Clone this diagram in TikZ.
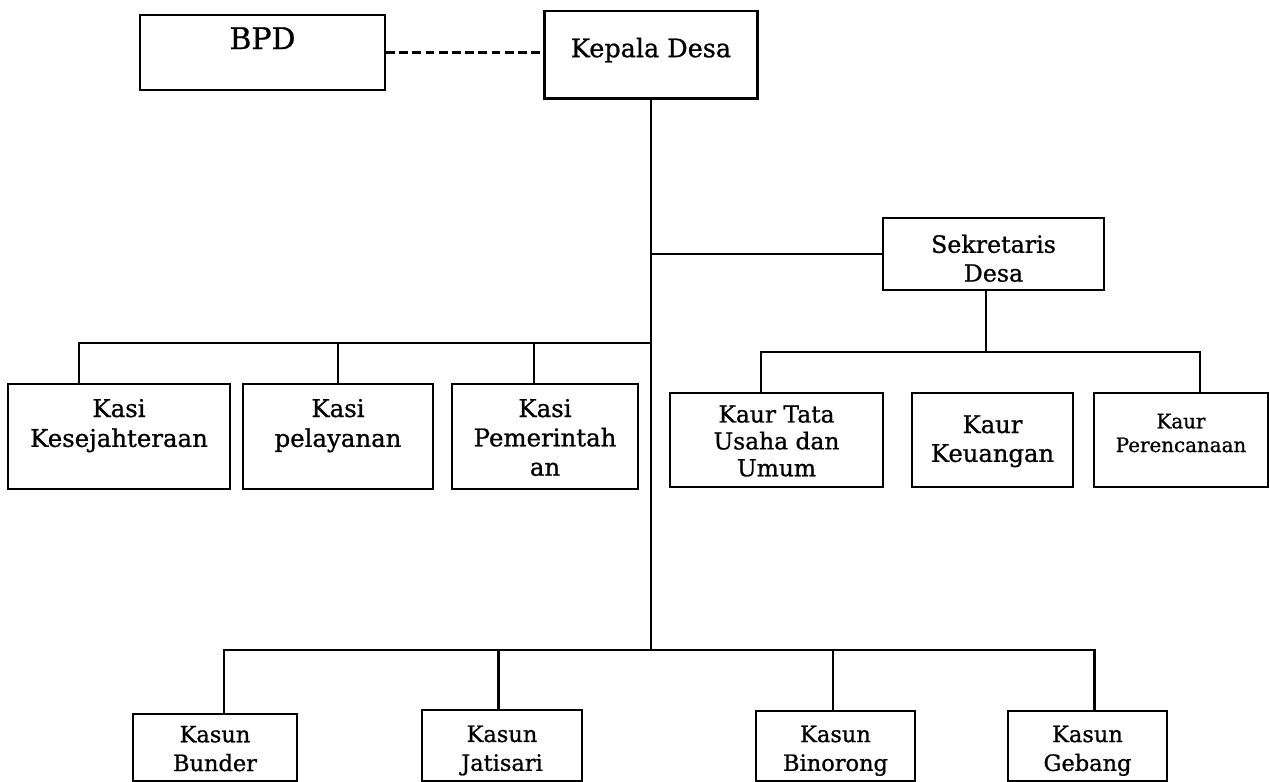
\documentclass[tikz,border=0pt]{standalone}
\usepackage{fontspec}
\setmainfont[FakeBold=0.9]{DejaVu Serif}
\usepackage{tikz}

\newcommand{\lines}[1]{\begin{tabular}[t]{@{}c@{}}#1\end{tabular}}

\tikzset{
  unit/.style={draw, line width=1.3pt, inner sep=0pt, anchor=north},
  link/.style={line width=1.3pt}
}

\begin{document}
\begin{tikzpicture}[x=0.02cm, y=-0.02cm]
    \useasboundingbox (0,0) rectangle (1270,781);
    % top
    \node[unit, minimum width=4.9cm, text height=19.3pt, text depth=23.2pt, font=\fontsize{17}{20}\selectfont] (bpd) at (262.5,14) {BPD};
    \node[unit, minimum width=4.26cm, text height=26.2pt, text depth=23.6pt, font=\fontsize{14.5}{17}\selectfont] (kades) at (651,10) {Kepala Desa};
    \draw[link, dash pattern=on 5pt off 2.5pt] (bpd.east) -- (bpd.east -| kades.west);
    \node[unit, minimum width=4.42cm, text height=19.7pt, text depth=21.1pt, font=\fontsize{13.5}{16.4}\selectfont] (sekdes) at (993.5,217) {\lines{Sekretaris\\Desa}};
    % kasi
    \node[unit, minimum width=4.44cm, text height=18.7pt, text depth=40.8pt, font=\fontsize{13.9}{17}\selectfont] (kasi1) at (119,383) {\lines{Kasi\\Kesejahteraan}};
    \node[unit, minimum width=3.8cm, text height=18.7pt, text depth=40.8pt, font=\fontsize{13.9}{17}\selectfont] (kasi2) at (338,383) {\lines{Kasi\\pelayanan}};
    \node[unit, minimum width=3.72cm, text height=18.7pt, text depth=40.8pt, font=\fontsize{13.9}{16.7}\selectfont] (kasi3) at (545,383) {\lines{Kasi\\Pemerintah\\an}};
    % kaur
    \node[unit, minimum width=4.26cm, text height=16.7pt, text depth=36.6pt, font=\fontsize{13.3}{15.3}\selectfont] (kaur1) at (776.5,392) {\lines{Kaur Tata\\Usaha dan\\Umum}};
    \node[unit, minimum width=3.22cm, text height=22.7pt, text depth=30.6pt, font=\fontsize{13.8}{16.4}\selectfont] (kaur2) at (992.5,392) {\lines{Kaur\\Keuangan}};
    \node[unit, minimum width=3.48cm, text height=20pt, text depth=33.3pt, font=\fontsize{11.3}{13.5}\selectfont] (kaur3) at (1181,392) {\lines{Kaur\\Perencanaan}};
    % kasun
    \node[unit, minimum width=3.28cm, text height=16pt, text depth=22pt, font=\fontsize{12.8}{16.4}\selectfont] (kasun1) at (215,713) {\lines{Kasun\\Bunder}};
    \node[unit, minimum width=3.2cm, text height=18.1pt, text depth=22.1pt, font=\fontsize{12.8}{16.4}\selectfont] (kasun2) at (502,709) {\lines{Kasun\\Jatisari}};
    \node[unit, minimum width=3.18cm, text height=17.6pt, text depth=22.1pt, font=\fontsize{12.8}{16.4}\selectfont] (kasun3) at (835.5,710) {\lines{Kasun\\Binorong}};
    \node[unit, minimum width=3.18cm, text height=17.6pt, text depth=22.1pt, font=\fontsize{12.8}{16.4}\selectfont] (kasun4) at (1087.5,710) {\lines{Kasun\\Gebang}};
    % bus levels
    \coordinate (kasibus) at (0,343);
    \coordinate (kaurbus) at (0,352);
    \coordinate (kasunbus) at (0,650);
    % lines
    \draw[link] (kades.south) -- (kades.south |- kasunbus);
    \draw[link] (kades.south |- sekdes.west) -- (sekdes.west);
    \draw[link] ([xshift=-0.15cm]sekdes.south) -- ([xshift=-0.15cm]sekdes.south |- kaurbus);
    \draw[link] ([xshift=-0.8cm]kasi1.north) |- (kades.south |- kasibus);
    \draw[link] (kasi2.north) -- (kasi2.north |- kasibus);
    \draw[link] ([xshift=-0.22cm]kasi3.north) -- ([xshift=-0.22cm]kasi3.north |- kasibus);
    \draw[link] ([xshift=-0.31cm]kaur1.north) |- ([xshift=0.38cm]kaur3.north |- kaurbus) -- ([xshift=0.38cm]kaur3.north);
    \draw[link] ([xshift=0.18cm]kasun1.north) |- ([xshift=0.14cm]kasun4.north |- kasunbus) -- ([xshift=0.14cm]kasun4.north);
    \draw[link] ([xshift=-0.07cm]kasun2.north) -- ([xshift=-0.07cm]kasun2.north |- kasunbus);
    \draw[link] ([xshift=-0.05cm]kasun3.north) -- ([xshift=-0.05cm]kasun3.north |- kasunbus);
\end{tikzpicture}
\end{document}
